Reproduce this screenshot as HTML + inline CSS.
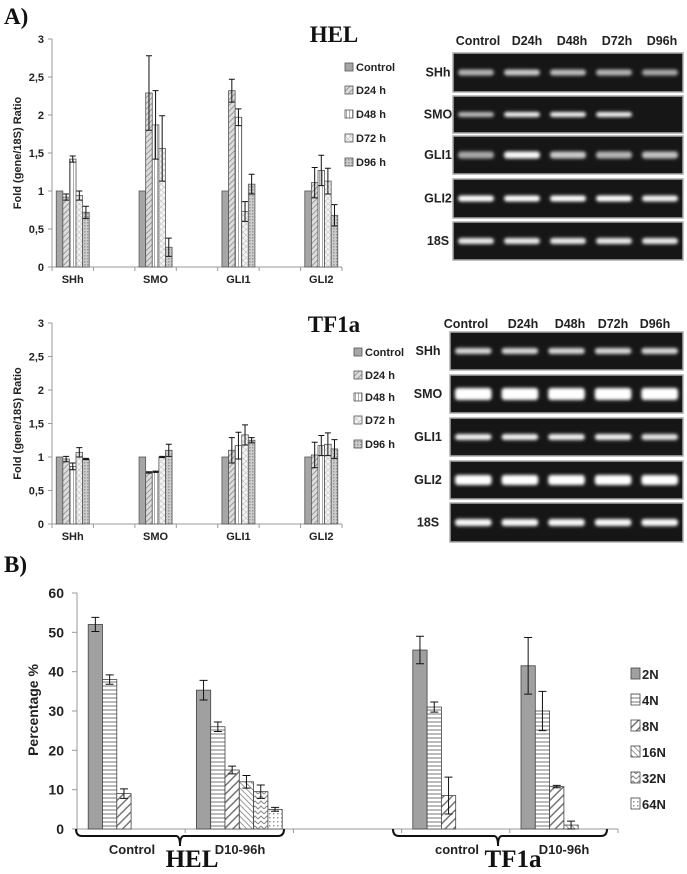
<!DOCTYPE html>
<html><head><meta charset="utf-8"><style>
body{margin:0;background:#fff}
svg{display:block;font-family:"Liberation Sans",sans-serif}
.t{font-weight:bold;fill:#222}
</style></head><body>
<svg id="fig" width="687" height="874" viewBox="0 0 687 874" xmlns="http://www.w3.org/2000/svg">
<defs>
<pattern id="p1" width="4" height="4" patternUnits="userSpaceOnUse" patternTransform="rotate(45)"><rect width="4" height="4" fill="#ddd"/><line x1="0" y1="0" x2="0" y2="4" stroke="#999" stroke-width="2"/></pattern>
<pattern id="p2" width="3" height="3" patternUnits="userSpaceOnUse"><rect width="3" height="3" fill="#fff"/><line x1="1.5" y1="0" x2="1.5" y2="3" stroke="#aaa" stroke-width="1"/></pattern>
<pattern id="p3" width="4" height="4" patternUnits="userSpaceOnUse" patternTransform="rotate(45)"><rect width="4" height="4" fill="#f4f4f4"/><line x1="0" y1="0" x2="0" y2="4" stroke="#bbb" stroke-width="1"/><line x1="0" y1="0" x2="4" y2="0" stroke="#bbb" stroke-width="1"/></pattern>
<pattern id="p4" width="3" height="3" patternUnits="userSpaceOnUse"><rect width="3" height="3" fill="#ccc"/><rect width="1.5" height="1.5" fill="#999"/></pattern>
<pattern id="q1" width="4" height="4" patternUnits="userSpaceOnUse"><rect width="4" height="4" fill="#fff"/><line x1="0" y1="2" x2="4" y2="2" stroke="#777" stroke-width="1"/></pattern>
<pattern id="q2" width="6" height="6" patternUnits="userSpaceOnUse" patternTransform="rotate(45)"><rect width="6" height="6" fill="#fff"/><line x1="0" y1="0" x2="0" y2="6" stroke="#777" stroke-width="3"/></pattern>
<pattern id="q3" width="4" height="4" patternUnits="userSpaceOnUse" patternTransform="rotate(-45)"><rect width="4" height="4" fill="#fff"/><line x1="0" y1="0" x2="0" y2="4" stroke="#777" stroke-width="1.5"/></pattern>
<pattern id="q4" width="6" height="5" patternUnits="userSpaceOnUse"><rect width="6" height="5" fill="#fff"/><polyline points="0,4 3,1 6,4" fill="none" stroke="#888" stroke-width="1"/></pattern>
<pattern id="q5" width="4" height="4" patternUnits="userSpaceOnUse"><rect width="4" height="4" fill="#fff"/><rect x="1" y="1" width="1.5" height="1.5" fill="#999"/></pattern>
<filter id="blur" x="-20%" y="-100%" width="140%" height="300%"><feGaussianBlur stdDeviation="1.6"/></filter>
</defs>
<g id="root"></g>
</svg>
<script>
// ---- Panel A data ----
const genes = ["SHh","SMO","GLI1","GLI2"];
const seriesA = ["Control","D24 h","D48 h","D72 h","D96 h"];
const helVals = [[1,0.92,1.42,0.94,0.72],[1,2.29,1.87,1.56,0.26],[1,2.32,1.97,0.73,1.09],[1,1.11,1.27,1.13,0.68]];
const helErr  = [[0,0.04,0.04,0.06,0.08],[0,0.49,0.45,0.43,0.12],[0,0.15,0.11,0.13,0.13],[0,0.2,0.2,0.17,0.14]];
const tfVals  = [[1,0.97,0.86,1.07,0.97],[1,0.77,0.78,1.0,1.1],[1,1.1,1.17,1.33,1.25],[1,1.03,1.17,1.19,1.12]];
const tfErr   = [[0,0.04,0.05,0.07,0.01],[0,0.01,0.01,0.01,0.09],[0,0.19,0.2,0.15,0.04],[0,0.19,0.15,0.17,0.14]];
const ticksA = ["0","0,5","1","1,5","2","2,5","3"];
// ---- Panel B data ----
const groupsB = ["Control","D10-96h","","control","D10-96h"];
const seriesB = ["2N","4N","8N","16N","32N","64N"];
const valsB = [[52,38,9,0,0,0],[35.3,26,15,12,9.5,5],[0,0,0,0,0,0],[45.5,31,8.5,0,0,0],[41.5,30,10.8,1,0,0]];
const errB  = [[1.8,1.2,1.2,0,0,0],[2.5,1.2,1,1.6,1.7,0.5],[0,0,0,0,0,0],[3.5,1.3,4.7,0,0,0],[7.2,5,0.3,1,0,0]];
const ticksB = ["0","10","20","30","40","50","60"];

const NS="http://www.w3.org/2000/svg";
const root=document.getElementById('root');
function mk(tag,attrs,parent){const e=document.createElementNS(NS,tag);for(const k in attrs)e.setAttribute(k,attrs[k]);(parent||root).appendChild(e);return e;}
function txt(s,attrs,parent){const e=mk('text',attrs,parent);e.textContent=s;return e;}

const fillA=["#a6a6a6","url(#p1)","url(#p2)","url(#p3)","url(#p4)"];
function chartA(y0,y3,vals,errs,title,titleY,legY,legX,prefix){
  const x0=52,x1=342,slot=(x1-x0)/7,bw=6.6;
  const ys=v=>y0-(v/3)*(y0-y3);
  const g=mk('g',{});
  
  
  mk('line',{x1:x0,y1:y3,x2:x0,y2:y0,stroke:'#999'},g);
  mk('line',{x1:x0,y1:y0,x2:x1,y2:y0,stroke:'#999'},g);
  ticksA.forEach((t,i)=>{const y=ys(i*0.5);
    mk('line',{x1:x0-4,y1:y,x2:x0,y2:y,stroke:'#999'},g);
    const e=txt(t,{x:x0-8,y:y+4,'text-anchor':'end','font-size':11,class:'t'},g);
    
    });
  for(let i=0;i<=7;i++)mk('line',{x1:x0+i*slot,y1:y0,x2:x0+i*slot,y2:y0+4,stroke:'#999'},g);
  const yl=txt('Fold (gene/18S) Ratio',{x:0,y:0,transform:`translate(21,${(y0+y3)/2}) rotate(-90)`,'text-anchor':'middle','font-size':11,class:'t'},g);
  
  
  genes.forEach((gn,gi)=>{
    const sx=x0+gi*2*slot, start=sx+(slot-5*bw)/2;
    const l=txt(gn,{x:sx+slot/2,y:y0+16,'text-anchor':'middle','font-size':11,class:'t'},g);
    
    
    vals[gi].forEach((v,si)=>{
      const bx=start+si*bw;
      const r=mk('rect',{x:bx,y:ys(v),width:bw,height:y0-ys(v),fill:fillA[si],stroke:'#555','stroke-width':0.8},g);
      
      
      const e=errs[gi][si];
      if(e>0){const cx=bx+bw/2,a=ys(v+e),b=ys(v-e);
        mk('path',{d:`M${cx},${a}V${b}M${cx-3},${a}H${cx+3}M${cx-3},${b}H${cx+3}`,stroke:'#111','stroke-width':1,fill:'none'},g);}
    });
  });
  const tt=txt(title,{x:334,y:titleY,'text-anchor':'middle','font-size':23,'font-family':'Liberation Serif, serif','font-weight':'bold',fill:'#111'},g);
  
  
  seriesA.forEach((s,i)=>{const y=legY[i];
    const sq=mk('rect',{x:legX,y:y-4,width:8,height:8,fill:fillA[i],stroke:'#555','stroke-width':0.8},g);
    
    
    const lt=txt(s,{x:legX+11,y:y+4,'font-size':11,class:'t'},g);
    
    });
}
chartA(267,39,helVals,helErr,'HEL',42,[67,90,114,138,162],345,'hel');
chartA(524,323,tfVals,tfErr,'TF1a',332,[352,375,397,420,444],354,'tf1a');

// Gels
const lanes=["Control","D24h","D48h","D72h","D96h"];
const rowsG=["SHh","SMO","GLI1","GLI2","18S"];
const helBand=[[.45,.6,.5,.45,.35],[.5,.9,.9,.9,0],[.35,.95,.6,.45,.55],[1,1,1,1,.9],[.85,.85,.85,.85,.85]];
const tfBand=[[.7,.7,.7,.7,.7],[1,1,1,1,1],[.9,.9,.9,.9,.8],[1,1,1,1,1],[.95,.95,.95,.95,.95]];
function gel(px,pw,rows,hdrY,hdrX,labX,bands,bh,prefix){
  const g=mk('g',{});
  
  
  lanes.forEach((l,i)=>{const e=txt(l,{x:hdrX[i],y:hdrY,'text-anchor':'middle','font-size':12.5,class:'t'},g);
    
    });
  rows.forEach((r,ri)=>{
    const [y1,y2]=r;
    const b=mk('rect',{x:px,y:y1,width:pw,height:y2-y1,fill:'#161616',stroke:'#aaa','stroke-width':1.5},g);
    
    
    const l=txt(rowsG[ri],{x:labX,y:(y1+y2)/2+4,'text-anchor':'middle','font-size':12.5,class:'t'},g);
    
    
    const lw=pw/5;
    bands[ri].forEach((a,li)=>{ if(a<=0)return;
      const c=Math.round(120+135*a);
      const band=mk('rect',{x:px+li*lw+5,y:(y1+y2)/2-bh[ri]/2,width:lw-10,height:bh[ri],rx:3,fill:`rgb(${c},${c},${c})`,filter:'url(#blur)'},g);
      
      });
  });
}
gel(453,230,[[53,92],[96,133],[136,174],[179,218],[222,260]],45,[478,527,572,617,662],438,helBand,[6,5,7,6,6],'hel');
gel(450,233,[[332,370],[375,413],[418,456],[461,499],[503,542]],328,[466,523,570,613,655],428,tfBand,[6,12,6,10,7],'tf1a');

// Panel B
(function(){
  const x0=77,x1=618,y0=829,y60=593,slot=(x1-x0)/5,bw=14.3;
  const ys=v=>y0-(v/60)*(y0-y60);
  const fills=["#a0a0a0","url(#q1)","url(#q2)","url(#q3)","url(#q4)","url(#q5)"];
  const g=mk('g',{});
  
  
  mk('line',{x1:x0,y1:y60,x2:x0,y2:y0,stroke:'#999'},g);
  mk('line',{x1:x0,y1:y0,x2:x1,y2:y0,stroke:'#999'},g);
  for(let i=0;i<=5;i++)mk('line',{x1:x0+i*slot,y1:y0,x2:x0+i*slot,y2:y0+4,stroke:'#999'},g);
  ticksB.forEach((t,i)=>{const y=ys(i*10);
    mk('line',{x1:x0-5,y1:y,x2:x0,y2:y,stroke:'#999'},g);
    const e=txt(t,{x:64,y:y+5,'text-anchor':'end','font-size':14,class:'t'},g);
    
    });
  const yl=txt('Percentage %',{x:0,y:0,transform:`translate(38,710) rotate(-90)`,'text-anchor':'middle','font-size':14,class:'t'},g);
  
  
  valsB.forEach((vs,gi)=>{const start=x0+gi*slot+(slot-6*bw)/2;
    vs.forEach((v,si)=>{ if(v<=0)return;
      const bx=start+si*bw;
      const r=mk('rect',{x:bx,y:ys(v),width:bw,height:y0-ys(v),fill:fills[si],stroke:'#444','stroke-width':0.8},g);
      
      
      const e=errB[gi][si];
      if(e>0){const cx=bx+bw/2,a=ys(v+e),b=ys(Math.max(0,v-e));
        mk('path',{d:`M${cx},${a}V${b}M${cx-4},${a}H${cx+4}M${cx-4},${b}H${cx+4}`,stroke:'#111','stroke-width':1,fill:'none'},g);}
    });});
  seriesB.forEach((s,i)=>{const y=674+i*26;
    const sq=mk('rect',{x:631,y:y-6,width:9,height:11,fill:fills[i],stroke:'#444','stroke-width':0.8},g);
    
    
    const lt=txt(s,{x:642,y:y+5,'font-size':13,class:'t'},g);
    
    });
  // braces
  [[76,284,180],[393,607,498]].forEach(([a,b,m])=>{
    const p=mk('path',{d:`M${a},${y0}Q${a},${y0+7} ${a+6},${y0+7}H${m-4}Q${m},${y0+7} ${m},${y0+17}Q${m},${y0+7} ${m+4},${y0+7}H${b-6}Q${b},${y0+7} ${b},${y0}`,stroke:'#111','stroke-width':2,fill:'none'},g);
    
    });
  [["Control",132],["D10-96h",240],["control",457],["D10-96h",564]].forEach(([s,x])=>{
    const e=txt(s,{x:x,y:854,'text-anchor':'middle','font-size':13,class:'t'},g);
    
    });
  [["HEL",192],["TF1a",513]].forEach(([s,x])=>{
    const e=txt(s,{x:x,y:867,'text-anchor':'middle','font-size':25,'font-family':'Liberation Serif, serif','font-weight':'bold',fill:'#111'},g);
    
    });
})();
const pa=txt('A)',{x:4,y:24,'font-size':23,'font-family':'Liberation Serif, serif','font-weight':'bold',fill:'#111'});


const pb=txt('B)',{x:4,y:572,'font-size':23,'font-family':'Liberation Serif, serif','font-weight':'bold',fill:'#111'});


</script>
</body></html>
